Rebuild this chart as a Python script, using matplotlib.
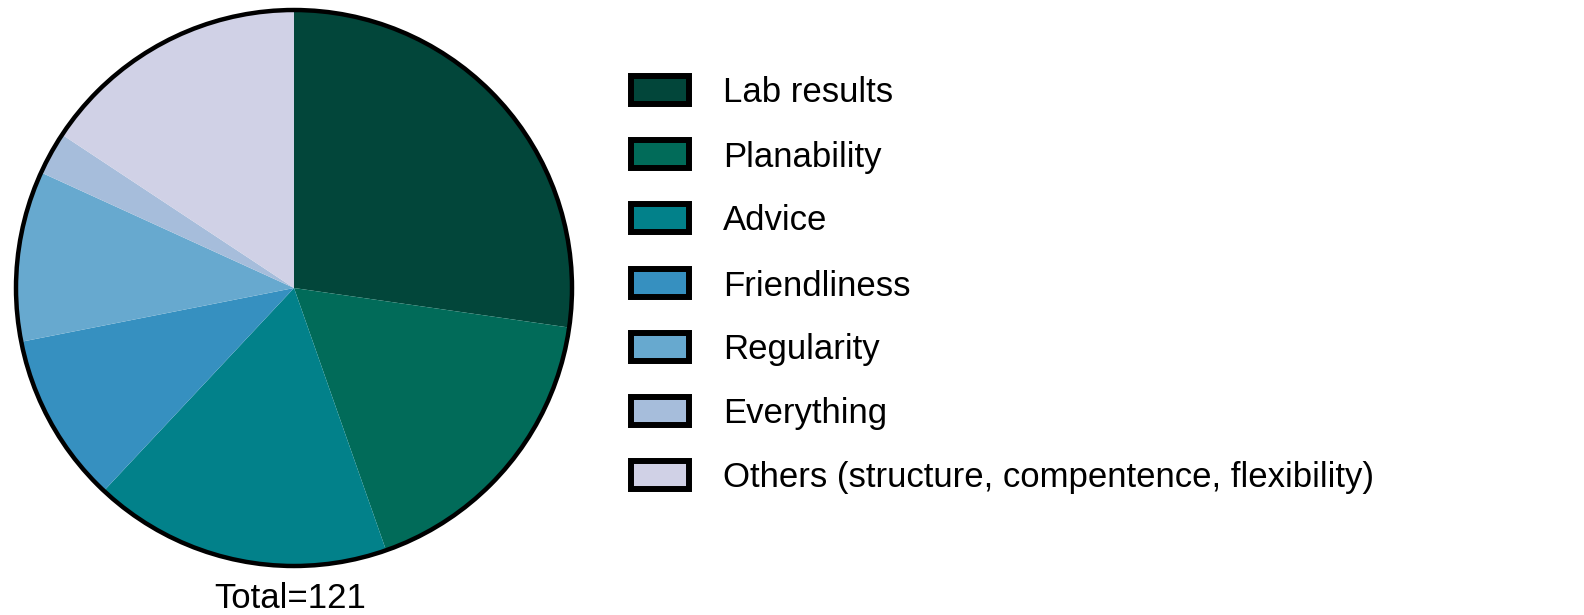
import matplotlib
matplotlib.use("Agg")
import matplotlib.pyplot as plt
from matplotlib.patches import Rectangle, Circle

labels = ["Lab results", "Planability", "Advice", "Friendliness", "Regularity",
          "Everything", "Others (structure, compentence, flexibility)"]
counts = [33, 21, 21, 12, 12, 3, 19]
colors = ["#02463a", "#016b59", "#02818a", "#3690c0", "#67a9cf", "#a6bddb", "#d0d1e6"]
total_label = "Total=121"

plt.rcParams['font.family'] = ['Liberation Sans', 'DejaVu Sans']
fig = plt.figure(figsize=(15.84, 6.15), dpi=100)

# pie axes
cx, cy, r = 294 / 1584, 1 - 288 / 615, 278
ax = fig.add_axes([cx - r / 1584, cy - r / 615, 2 * r / 1584, 2 * r / 615])
wedges, _ = ax.pie(counts, colors=colors, startangle=90, counterclock=False,
                   radius=1.0, wedgeprops=dict(linewidth=0))
ax.add_patch(Circle((0, 0), 1.0, fill=False, edgecolor="black", linewidth=3.2,
                    zorder=5, clip_on=False))
for w in wedges:
    w.set_clip_on(False)
ax.set_xlim(-1.0, 1.0)
ax.set_ylim(-1.0, 1.0)
ax.set_aspect("equal")
ax.axis("off")

fig.text(290 / 1584, 1 - 599 / 615, total_label, fontsize=25, ha="center", va="center")

# manual legend
row_y = [90, 154, 218, 283, 347, 411, 475]
for lab, col, yy in zip(labels, colors, row_y):
    y = 1 - yy / 615
    fig.patches.append(Rectangle((631 / 1584, y - 14 / 615), 58 / 1584, 28 / 615,
                                 facecolor=col, edgecolor="black", linewidth=4.3,
                                 transform=fig.transFigure, figure=fig))
    fig.text(723 / 1584, y - 3 / 615, lab, fontsize=25, ha="left", va="center")

fig.savefig("out.png", dpi=100)
